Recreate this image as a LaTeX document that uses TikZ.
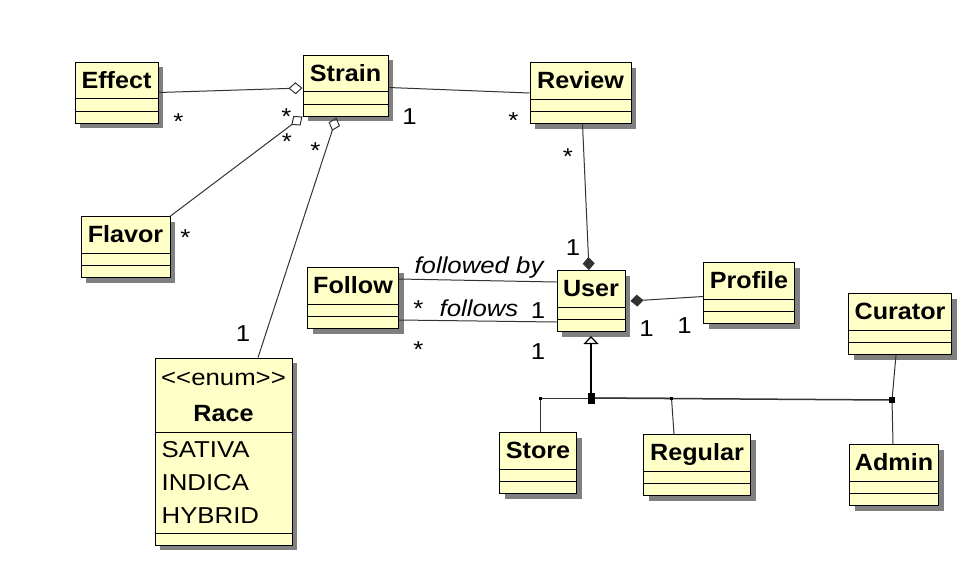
\documentclass[tikz,border=0pt]{standalone}
\usepackage{fontspec}
\newfontfamily\clsfont{Liberation Sans}[FakeStretch=1.07]
\newfontfamily\txtfont{Liberation Sans}[FakeStretch=1.12]
\usetikzlibrary{positioning,shapes,arrows.meta,shadows,calc}
\definecolor{clsfill}{RGB}{255,255,200}
\tikzset{
  cls/.style={draw=black, line width=1pt, fill=clsfill,
    drop shadow={shadow xshift=5pt, shadow yshift=-5pt, fill=black!50, opacity=1},
    inner sep=0pt, text height=26pt, text depth=35pt,
    font=\clsfont\fontsize{23.5}{28}\selectfont\bfseries,
    path picture={
      \draw[line width=1pt] ([yshift=12pt]path picture bounding box.south west) -- ([yshift=12pt]path picture bounding box.south east);
      \draw[line width=1pt] ([yshift=24.5pt]path picture bounding box.south west) -- ([yshift=24.5pt]path picture bounding box.south east);
    }},
  enumbox/.style={cls,
    path picture={
      \draw[line width=1pt] ([yshift=12pt]path picture bounding box.south west) -- ([yshift=12pt]path picture bounding box.south east);
      \draw[line width=1pt] ([yshift=113pt]path picture bounding box.south west) -- ([yshift=113pt]path picture bounding box.south east);
    }},
  mult/.style={font=\txtfont\fontsize{23}{27}\selectfont, inner sep=0pt, anchor=base},
  role/.style={mult, font=\txtfont\fontsize{23}{27}\selectfont\itshape},
  assoc/.style={draw=black!80, line width=1pt},
  agg/.style={assoc, -{Diamond[open, length=14pt, width=12pt]}},
  comp/.style={assoc, -{Diamond[length=13pt, width=12pt]}},
  gen/.style={draw=black, line width=1.8pt, -{Triangle[open, length=8pt, width=15pt, line width=1.2pt]}}
}
\begin{document}
\begin{tikzpicture}[x=1pt,y=-1pt]
\useasboundingbox (0,0) rectangle (968,563);
% classes
\node[cls, minimum width=83pt] (effect) at (116.5,92.5) {Effect};
\node[cls, minimum width=85pt] (strain) at (345.5,85.5) {Strain};
\node[cls, minimum width=101pt] (review) at (580.5,93) {Review};
\node[cls, minimum width=89pt] (flavor) at (125.5,247) {Flavor};
\node[cls, minimum width=91pt] (follow) at (353,298) {Follow};
\node[cls, minimum width=68pt] (user) at (591,301) {User};
\node[cls, minimum width=91pt] (profile) at (749,293) {Profile};
\node[cls, minimum width=103pt] (curator) at (900,324) {Curator};
\node[cls, minimum width=77pt] (store) at (538,463) {Store};
\node[cls, minimum width=107pt] (regular) at (697,465) {Regular};
\node[cls, minimum width=89pt] (admin) at (894,475) {Admin};
% enum
\node[enumbox, minimum width=137pt, text height=63pt, text depth=124pt, anchor=base] (race) at (223.5,421) {Race};
\node[mult] (race-st) at (223.5,385) {<<enum>>};
\foreach \v [count=\i] in {SATIVA,INDICA,HYBRID}
  \node[mult, anchor=base west] (race-\i) at (161.5,424+33*\i) {\v};
% associations
\draw[agg] (effect.east) -- ($(strain.west)+(0,2.5)$);
\draw[agg] (flavor.north east) -- (strain.south west);
\draw[agg] ($(race.north)+(34.5,0)$) -- ($(strain.south)+(-9,1)$);
\draw[assoc] ($(strain.east)+(0,2)$) -- (review.west);
\draw[comp] ($(review.south)+(2,0)$) -- ($(user.north)+(-2,0)$);
\draw[assoc] ($(follow.east)+(0,-19)$) -- ($(user.west)+(0,-19)$);
\draw[assoc] ($(follow.east)+(0,22)$) -- ($(user.west)+(0,21)$);
\draw[comp] ($(profile.west)+(0,3.5)$) -- ($(user.east)+(5,0)$);
% generalization
\coordinate (gen) at (591,398);
\coordinate (gen-s) at (540.5,398);
\coordinate (gen-r) at (671.5,398);
\coordinate (gen-a) at (892,400);
\draw[gen] (gen) -- ($(user.south)+(0,4)$);
\draw[assoc] (gen) -- (gen-s) -- (store.north -| gen-s);
\draw[assoc] (gen) -- (gen-r) -- ($(regular.north)+(-23,0)$);
\draw[assoc, line width=1.5pt] (gen) -- (gen-a);
\draw[assoc] ($(curator.south)+(-4,0)$) -- (gen-a) -- ($(admin.north)+(-1,0)$);
\fill (gen) +(-3.5,-5.5) rectangle +(3.5,5.5);
\fill (gen-a) +(-3,-3) rectangle +(3,3);
\fill (gen-s) +(-1.5,-1.5) rectangle +(1.5,1.5);
\fill (gen-r) +(-1.5,-1.5) rectangle +(1.5,1.5);
% multiplicities and roles
\node[mult] (effect-m) at (178.5,129) {*};
\node[mult] (strain-m1) at (286.5,124) {*};
\node[mult] (strain-m2) at (409.5,124) {1};
\node[mult] (review-m1) at (513.5,128.5) {*};
\node[mult] (strain-m3) at (287,149) {*};
\node[mult] (flavor-m) at (185.5,245) {*};
\node[mult] (strain-m4) at (315.5,158.5) {*};
\node[mult] (race-m) at (243,341) {1};
\node[mult] (review-m2) at (568,164) {*};
\node[mult] (user-m1) at (573,255) {1};
\node[role] (followedby) at (479,273.5) {followed by};
\node[mult] (follow-m1) at (418.5,316) {*};
\node[role] (follows) at (479,316) {follows};
\node[mult] (user-m2) at (538,318) {1};
\node[mult] (follow-m2) at (418.5,357.5) {*};
\node[mult] (user-m3) at (538,359) {1};
\node[mult] (user-m4) at (646.5,336) {1};
\node[mult] (profile-m) at (684.5,333) {1};
\end{tikzpicture}
\end{document}
